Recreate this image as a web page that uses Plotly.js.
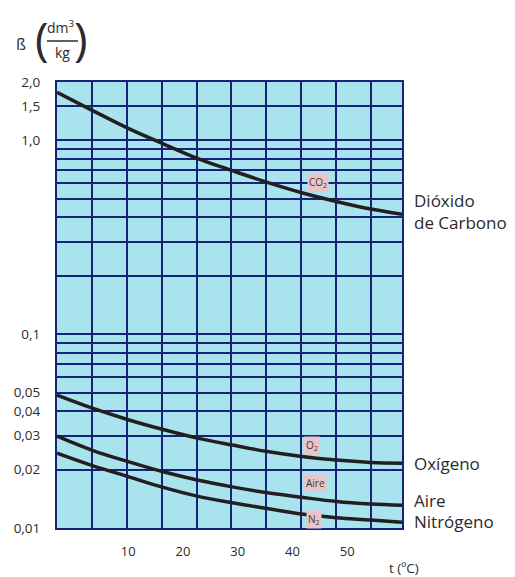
<!DOCTYPE html>
<html>
<head>
<meta charset="utf-8">
<script src="https://cdn.plot.ly/plotly-3.0.1.min.js"></script>
<style>
  html, body { margin: 0; padding: 0; background: #ffffff; }
  #chart { width: 515px; height: 577px; }
</style>
</head>
<body>
<div id="chart"></div>
<script>
// Temperature (ºC) at which the curves were read
const temperature = [-3, 3.6, 10, 16.4, 22.6, 29, 35.4, 41.7, 48, 54.3, 60];

// Solubility coefficient ß (dm³/kg)
const co2 = [1.77, 1.42, 1.153, 0.96, 0.808, 0.698, 0.607, 0.537, 0.484, 0.442, 0.415];
const oxygen = [0.0485, 0.0414, 0.0362, 0.0322, 0.0291, 0.0268, 0.0248, 0.0234, 0.0224, 0.0218, 0.0216];
const air = [0.0298, 0.0251, 0.0220, 0.0195, 0.0177, 0.0163, 0.0152, 0.0144, 0.0137, 0.0133, 0.0131];
const nitrogen = [0.0243, 0.0209, 0.0184, 0.0162, 0.0146, 0.0135, 0.0126, 0.0118, 0.0113, 0.0110, 0.0107];

const seriesNames = ['Dióxido de Carbono', 'Oxígeno', 'Aire', 'Nitrógeno'];

// Axis ticks
const xTickVals = [10, 20, 30, 40, 50];
const xTickText = ['10', '20', '30', '40', '50'];
const yTickVals = [0.01, 0.02, 0.03, 0.04, 0.05, 0.1, 1.0, 1.5, 2.0];
const yTickText = ['0,01', '0,02', '0,03', '0,04', '0,05', '0,1', '1,0', '1,5', '2,0'];
// unlabelled log grid lines
const yGridVals = [0.06, 0.07, 0.08, 0.09, 0.2, 0.3, 0.4, 0.5, 0.6, 0.7, 0.8, 0.9];

const NAVY = '#16237a';
const INK = '#231f20';
const TEXT = '#2b2b2b';
const PINK = '#eac4c7';
const FONT = '"Open Sans", "Noto Sans", sans-serif';

const curve = (y, name) => ({
  x: temperature, y: y, name: name, type: 'scatter', mode: 'lines',
  line: { color: INK, width: 3.5, shape: 'spline', smoothing: 1 },
  hoverinfo: 'x+y+name'
});

const traces = [
  curve(co2, seriesNames[0]),
  curve(oxygen, seriesNames[1]),
  curve(air, seriesNames[2]),
  curve(nitrogen, seriesNames[3]),
  // empty trace to carry the evenly spaced vertical grid axis
  { x: [], y: [], xaxis: 'x2', yaxis: 'y', type: 'scatter', mode: 'lines',
    showlegend: false, hoverinfo: 'skip' }
];

const curveLabel = (x, y, text) => ({
  x: x, y: Math.log10(y), xref: 'x', yref: 'y', text: text, showarrow: false,
  bgcolor: PINK, borderpad: 1, font: { family: FONT, size: 10, color: '#3a3a3a' }
});

const sideLabel = (y, text, anchor) => ({
  x: 1.029, y: y, xref: 'paper', yref: 'paper', xanchor: 'left', yanchor: anchor,
  text: text, showarrow: false, font: { family: FONT, size: 17, color: TEXT }
});

const plotW = 515 - 57 - 113, plotH = 577 - 82 - 49;
const py = p => (577 - 49 - p) / plotH;   // pixel row -> paper y
const px = p => (p - 57) / plotW;         // pixel column -> paper x

const titleText = (x, y, text, size) => ({
  x: px(x), y: py(y), xref: 'paper', yref: 'paper', xanchor: 'center', yanchor: 'middle',
  text: text, showarrow: false, font: { family: FONT, size: size, color: TEXT }
});

const layout = {
  width: 515, height: 577,
  margin: { l: 57, r: 113, t: 82, b: 49 },
  paper_bgcolor: '#ffffff',
  plot_bgcolor: '#a9e4ee',
  showlegend: false,
  font: { family: FONT, color: TEXT, size: 13 },
  xaxis: {
    range: [-3, 60], tickmode: 'array', tickvals: xTickVals, ticktext: xTickText,
    showgrid: false, zeroline: false, ticks: '', ticklabelstandoff: 10,
    showline: true, linecolor: NAVY, linewidth: 2, mirror: true,
    tickfont: { family: FONT, size: 13, color: TEXT }
  },
  xaxis2: {
    overlaying: 'x', range: [0, 9.89], tick0: 0, dtick: 1, showticklabels: false,
    showgrid: true, gridcolor: NAVY, gridwidth: 2, zeroline: false, ticks: ''
  },
  yaxis: {
    type: 'log', range: [Math.log10(0.01), Math.log10(2.0)],
    tickmode: 'array', tickvals: yTickVals, ticktext: yTickText,
    showgrid: true, gridcolor: NAVY, gridwidth: 2, zeroline: false, ticks: '',
    minor: { tickmode: 'array', tickvals: yGridVals, showgrid: true,
             gridcolor: NAVY, gridwidth: 2, ticks: '' },
    ticklabelstandoff: 12,
    showline: true, linecolor: NAVY, linewidth: 2, mirror: true,
    tickfont: { family: FONT, size: 13.5, color: TEXT }
  },
  annotations: [
    curveLabel(44.66, 0.603, 'CO<sub>2</sub>'),
    curveLabel(43.57, 0.0265, 'O<sub>2</sub>'),
    curveLabel(44.2, 0.01697, 'Aire'),
    curveLabel(44.0, 0.01106, 'N<sub>2</sub>'),
    sideLabel(py(213.5), 'Dióxido', 'bottom'),
    sideLabel(py(209), 'de Carbono', 'top'),
    sideLabel(py(463), 'Oxígeno', 'middle'),
    sideLabel(py(514), 'Aire', 'bottom'),
    sideLabel(py(508), 'Nitrógeno', 'top'),
    // x axis title
    titleText(403.5, 567.5, 't (ºC)', 13.5),
    // y axis title: ß (dm³ / kg)
    titleText(21, 44, 'ß', 16),
    titleText(42, 38, '(', 46),
    titleText(81, 38, ')', 46),
    titleText(61, 27, 'dm<sup>3</sup>', 14),
    titleText(62, 53, 'kg', 14)
  ],
  shapes: [{
    type: 'line', xref: 'paper', yref: 'paper',
    x0: px(47), x1: px(78), y0: py(41), y1: py(41),
    line: { color: TEXT, width: 1.5 }
  }]
};

Plotly.newPlot('chart', traces, layout, { displayModeBar: false, staticPlot: true });
</script>
</body>
</html>
